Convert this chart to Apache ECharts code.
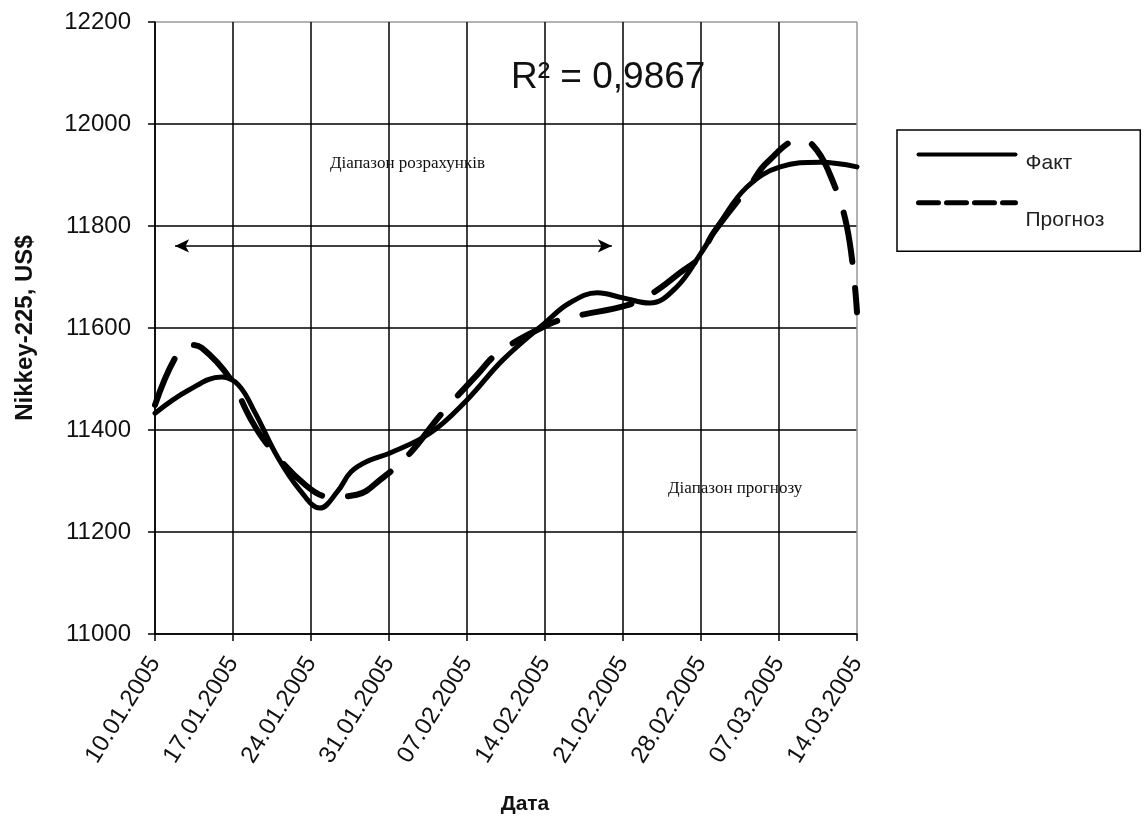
<!DOCTYPE html>
<html>
<head>
<meta charset="utf-8">
<script src="https://cdn.jsdelivr.net/npm/echarts@6/dist/echarts.min.js"></script>
<style>
html,body{margin:0;padding:0;background:#fff;}
#chart{width:1146px;height:823px;}
</style>
</head>
<body>
<div id="chart"></div>
<script>
// Tick labels (one per week, x positions are days since 10.01.2005)
const tickLabels = ['10.01.2005','17.01.2005','24.01.2005','31.01.2005','07.02.2005','14.02.2005','21.02.2005','28.02.2005','07.03.2005','14.03.2005'];
const yTicks = [11000, 11200, 11400, 11600, 11800, 12000, 12200];

// Fact series: day offsets and values
const factDays   = [0, 3, 6, 7.5, 9, 11, 13, 14.8, 16.4, 17.6, 19.2, 21.1, 24.7, 28, 31.2, 35, 37.2, 39.7, 42, 44.4, 46.8, 49, 50.7, 53.1, 56.1, 59.7, 63];
const factValues = [11433, 11478, 11504, 11488, 11433, 11347, 11282, 11247, 11280, 11318, 11340, 11355, 11394, 11459, 11537, 11610, 11649, 11669, 11659, 11649, 11680, 11747, 11806, 11876, 11916, 11925, 11916];

// Forecast series
const fcDays   = [0, 1.8, 3.1, 4.2, 6.7, 8.5, 10, 13.5, 15.7, 18.1, 20.2, 22.9, 25.6, 28.9, 30.8, 35.2, 37.5, 42.4, 44.7, 47.1, 48.9, 50.1, 53.4, 54.9, 57.9, 59, 60.4, 62.1, 63];
const fcValues = [11449, 11541, 11567, 11561, 11502, 11425, 11374, 11292, 11269, 11273, 11302, 11355, 11429, 11508, 11551, 11606, 11622, 11645, 11669, 11708, 11739, 11786, 11880, 11924, 11969, 11959, 11910, 11798, 11631];

// Range arrows (days, value level)
const calcRange = [1.8, 41.0], calcLevel = 11761;
const fcRange = [41.3, 64.2], fcLevel = 11417;

const factData = factDays.map((d, i) => [d, factValues[i]]);
const fcData = fcDays.map((d, i) => [d, fcValues[i]]);

const FONT = "'Liberation Sans', Arial, sans-serif";
const chart = echarts.init(document.getElementById('chart'), null, {renderer: 'canvas'});

const xSplitColors = tickLabels.map((_, i) => i === tickLabels.length - 1 ? '#999' : '#000');
const ySplitColors = yTicks.map((_, i) => i === yTicks.length - 1 ? '#999' : '#000');

chart.setOption({
  animation: false,
  backgroundColor: '#fff',
  grid: {left: 155, right: 289, top: 22, bottom: 189, containLabel: false},
  xAxis: {
    type: 'value', min: 0, max: 63, interval: 7,
    name: 'Дата', nameLocation: 'middle', nameGap: 160,
    nameTextStyle: {fontFamily: FONT, fontSize: 21, fontWeight: 'bold', color: '#111', padding: [0, 0, 0, 38]},
    axisLine: {lineStyle: {color: '#000', width: 1.5}},
    axisTick: {show: true, length: 7, lineStyle: {color: '#000', width: 1.5}},
    axisLabel: {
      rotate: 58, margin: 25, fontFamily: FONT, fontSize: 24, color: '#111',
      formatter: v => tickLabels[Math.round(v / 7)] || ''
    },
    splitLine: {show: true, lineStyle: {color: xSplitColors, width: 1.5}}
  },
  yAxis: {
    type: 'value', min: 11000, max: 12200, interval: 200,
    name: 'Nikkey-225, US$', nameLocation: 'middle', nameGap: 118,
    nameTextStyle: {fontFamily: FONT, fontSize: 24, fontWeight: 'bold', color: '#111'},
    axisLine: {show: true, lineStyle: {color: '#000', width: 1.5}},
    axisTick: {show: true, length: 7, lineStyle: {color: '#000', width: 1.5}},
    axisLabel: {margin: 24, fontFamily: FONT, fontSize: 24, color: '#111', formatter: v => String(v)},
    splitLine: {show: true, lineStyle: {color: ySplitColors, width: 1.5}}
  },
  legend: {
    orient: 'vertical', left: 897, top: 130,
    padding: [19, 36, 20, 19],
    borderColor: '#000', borderWidth: 1.5,
    itemWidth: 97, itemHeight: 14, itemGap: 23,
    selectedMode: false,
    itemStyle: {opacity: 0},
    textStyle: {
      fontFamily: FONT, fontSize: 21, color: '#222',
      rich: {
        a: {fontFamily: FONT, fontSize: 21, color: '#222', padding: [18, 0, 0, 5]},
        b: {fontFamily: FONT, fontSize: 21, color: '#222', padding: [36, 0, 0, 5]}
      }
    },
    formatter: n => n === 'Факт' ? '{a|' + n + '}' : '{b|' + n + '}',
    data: [
      {name: 'Факт', itemStyle: {opacity: 0}, lineStyle: {color: '#000', width: 4, type: 'solid'}},
      {name: 'Прогноз', itemStyle: {opacity: 0}, lineStyle: {color: '#000', width: 5, type: [20, 8]}}
    ]
  },
  graphic: [
    {type: 'text', left: 511, top: 59, z: 50,
     style: {text: 'R² = 0,9867', font: "37px 'Liberation Sans', Arial, sans-serif", fill: '#111'}},
    {type: 'text', left: 330, top: 155, z: 0,
     style: {text: 'Діапазон розрахунків', font: "17px 'Liberation Serif', 'DejaVu Serif', serif", fill: '#111'}},
    {type: 'text', left: 668, top: 480, z: 0,
     style: {text: 'Діапазон прогнозу', font: "17px 'Liberation Serif', 'DejaVu Serif', serif", fill: '#111'}}
  ],
  series: [
    {
      name: 'Факт', type: 'line', data: factData, smooth: 0.4, showSymbol: false, symbol: 'none',
      lineStyle: {color: '#000', width: 5, cap: 'round', join: 'round'},
      itemStyle: {color: '#000'},
      clip: false, silent: true, z: 3,
      markLine: {
        silent: true, symbol: ['arrow', 'arrow'], symbolSize: [10, 14],
        label: {show: false},
        lineStyle: {color: '#000', width: 1.5, type: 'solid'},
        data: [
          [{coord: [calcRange[0], calcLevel]}, {coord: [calcRange[1], calcLevel]}],
          [{coord: [fcRange[0], fcLevel]}, {coord: [fcRange[1], fcLevel]}]
        ]
      }
    },
    {
      name: 'Прогноз', type: 'line', data: fcData, smooth: 0.4, showSymbol: false, symbol: 'none',
      lineStyle: {color: '#000', width: 6, type: [50, 26], cap: 'round', join: 'round'},
      itemStyle: {color: '#000'},
      clip: false, silent: true, z: 4
    }
  ]
});
</script>
</body>
</html>
